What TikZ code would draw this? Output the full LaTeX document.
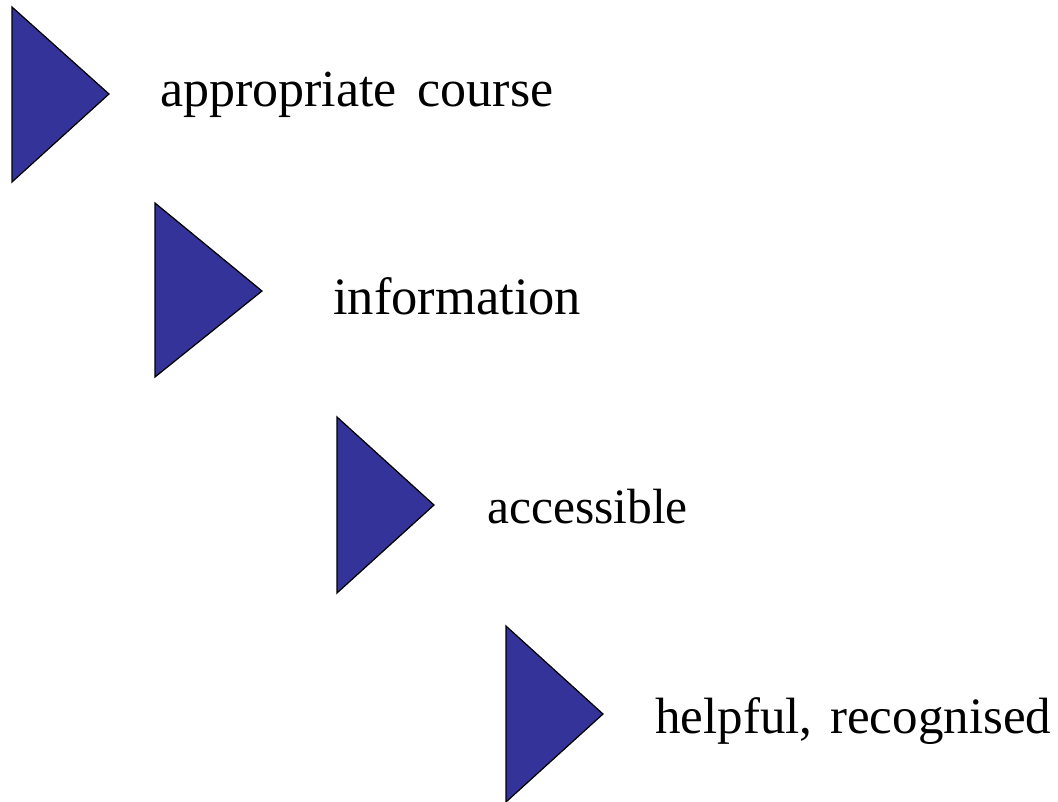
\documentclass[tikz,border=0pt]{standalone}
\usepackage{fontspec}
\setmainfont{Liberation Serif}
\definecolor{triblue}{HTML}{333399}
\begin{document}
\begin{tikzpicture}[x=1pt,y=-1pt,
  tri/.style={fill=triblue,draw=black,line width=1.2pt,line join=miter},
  lbl/.style={anchor=base west,inner sep=0pt,font=\fontsize{#1}{60}\selectfont},
  lbl/.default=51]
\useasboundingbox (0,0) rectangle (1058,801);
\draw[tri] (12,7) -- (109,94) -- (12,182) -- cycle;
\draw[tri] (155,203) -- (262,291) -- (155,377) -- cycle;
\draw[tri] (337,417) -- (434,505) -- (337,593) -- cycle;
\draw[tri] (506,626) -- (603,714) -- (506,802) -- cycle;
\node[lbl=52] (t1) at (160,106) {appropriate\hspace{0.4em}course};
\node[lbl=52.5] (t2) at (333,314) {information};
\node[lbl=49.5] (t3) at (487,523) {accessible};
\node[lbl=51] (t4) at (655,733) {helpful,\hspace{0.35em}recognised};
\end{tikzpicture}
\end{document}
